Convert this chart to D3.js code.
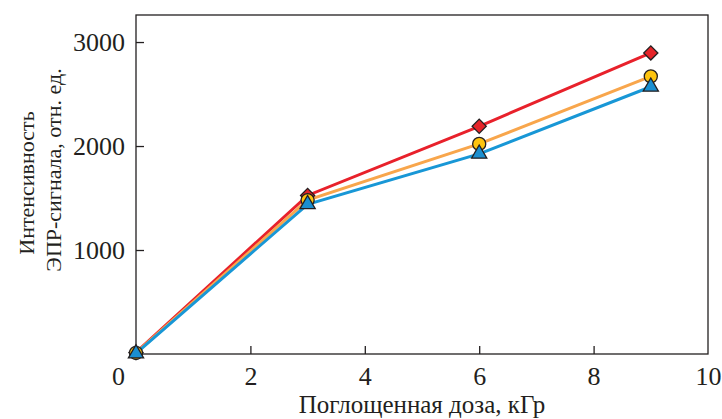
<!DOCTYPE html>
<html>
<head>
<meta charset="utf-8">
<script src="https://cdn.jsdelivr.net/npm/d3@7"></script>
<style>
  body { margin: 0; background: #fff; }
</style>
</head>
<body>
<div id="chart"></div>
<script>
// dose values, kGy
const doses = [0, 3, 6, 9];

// three series of EPR signal intensity
const seriesRed = [15, 1525, 2190, 2895];
const seriesYellow = [10, 1480, 2020, 2670];
const seriesBlue = [5, 1440, 1925, 2570];

const xTicks = [0, 2, 4, 6, 8, 10];
const yTicks = [1000, 2000, 3000];

const xTitle = "Поглощенная доза, кГр";
const yTitle = ["Интенсивность", "ЭПР-сигнала, отн. ед."];

const serif = "'Liberation Serif', Tinos, 'Times New Roman', Times, serif";
const ink = "#231f20";

const width = 722, height = 419;
const margin = { left: 136, right: 14, top: 15, bottom: 65 };

const svg = d3.select("#chart").append("svg")
    .attr("width", width)
    .attr("height", height)
    .attr("font-family", serif);

const x = d3.scaleLinear().domain([0, 10]).range([margin.left, width - margin.right]);
const y = d3.scaleLinear().domain([0, 3260]).range([height - margin.bottom, margin.top]);

// frame
svg.append("rect")
    .attr("x", x(0))
    .attr("y", y.range()[1])
    .attr("width", x(10) - x(0))
    .attr("height", y.range()[0] - y.range()[1])
    .attr("fill", "none")
    .attr("stroke", ink)
    .attr("stroke-width", 1.3);

// y axis, ticks pointing inward
const yAxis = svg.append("g")
    .attr("transform", `translate(${x(0)},0)`)
    .call(d3.axisLeft(y).tickValues(yTicks).tickFormat(d3.format("d")).tickSize(-8).tickPadding(11));
yAxis.attr("font-family", serif);
yAxis.select(".domain").remove();
yAxis.selectAll("line").attr("stroke", ink).attr("stroke-width", 1.3);
yAxis.selectAll("text").style("font-size", "26px").attr("fill", ink);

// x axis
const xAxis = svg.append("g")
    .attr("transform", `translate(0,${y(0)})`)
    .call(d3.axisBottom(x).tickValues(xTicks).tickFormat(d3.format("d")).tickSize(-8).tickPadding(13));
xAxis.attr("font-family", serif);
xAxis.select(".domain").remove();
xAxis.selectAll("line")
    .attr("stroke", ink)
    .attr("stroke-width", 1.3)
    .attr("display", d => (d === 0 || d === 10) ? "none" : null);
xAxis.selectAll("text").style("font-size", "26px").attr("fill", ink)
    .attr("dx", d => d === 0 ? -18 : 0);

// axis titles
svg.append("text")
    .attr("x", (x(0) + x(10)) / 2)
    .attr("y", 413)
    .attr("text-anchor", "middle")
    .attr("fill", ink)
    .style("font-size", "25px")
    .text(xTitle);

svg.append("text")
    .attr("transform", "translate(34,183) rotate(-90)")
    .attr("text-anchor", "middle")
    .attr("fill", ink)
    .style("font-size", "22px")
    .text(yTitle[0]);

svg.append("text")
    .attr("transform", "translate(61,170) rotate(-90)")
    .attr("text-anchor", "middle")
    .attr("fill", ink)
    .style("font-size", "22px")
    .text(yTitle[1]);

const series = [
    { values: seriesRed, line: "#e8212b", fill: "#e52429", symbol: d3.symbolSquare, size: 100, rot: 45 },
    { values: seriesYellow, line: "#f8a64c", fill: "#fdc40f", symbol: d3.symbolCircle, size: 135, rot: 0 },
    { values: seriesBlue, line: "#1897d6", fill: "#1a8fd0", symbol: d3.symbolTriangle, size: 100, rot: 0 }
];

const line = d3.line()
    .x((d, i) => x(doses[i]))
    .y(d => y(d));

series.forEach(s => {
    svg.append("path")
        .datum(s.values)
        .attr("d", line)
        .attr("fill", "none")
        .attr("stroke", s.line)
        .attr("stroke-width", 3);
});

series.forEach(s => {
    svg.append("g").selectAll("path")
        .data(s.values)
        .enter().append("path")
        .attr("d", d3.symbol().type(s.symbol).size(s.size))
        .attr("transform", (d, i) => `translate(${x(doses[i])},${y(d)}) rotate(${s.rot})`)
        .attr("fill", s.fill)
        .attr("stroke", ink)
        .attr("stroke-width", 1.3);
});
</script>
</body>
</html>
